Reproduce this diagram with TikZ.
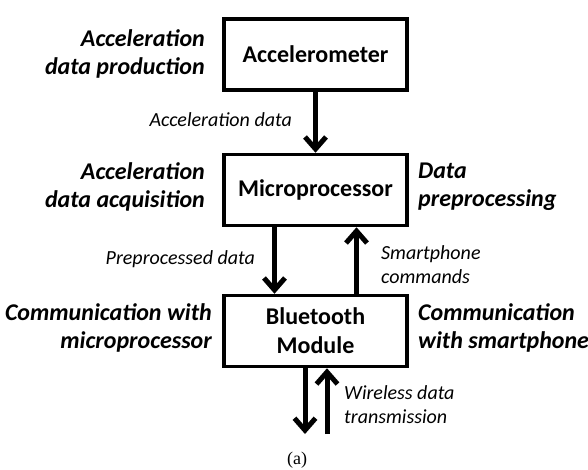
\documentclass[tikz,border=0pt]{standalone}
\usepackage{fontspec}
\setmainfont{Carlito}
\newfontfamily\legende{Liberation Serif}
\usepackage{tikz}
\usetikzlibrary{positioning,arrows.meta}
\tikzset{
	bloc/.style={draw,line width=3.5pt,minimum width=183pt,minimum height=71pt,align=center,
		font=\fontsize{24}{29}\selectfont\bfseries},
	role/.style={inner sep=0pt,font=\fontsize{24}{28}\selectfont\bfseries\itshape},
	flux/.style={inner sep=0pt,font=\fontsize{20}{24}\selectfont\itshape},
	fleche/.style={line width=5pt,-{Straight Barb[length=12pt,width=21pt]}}
}

\begin{document}
\begin{tikzpicture}[x=1pt,y=-1pt]
	\def\xc{315.5};
	\def\dx{41};
\useasboundingbox (0,0) rectangle (588,469);

%Blocs
\node[bloc] (acc) at (\xc,54.5) {Accelerometer};
\node[bloc] (mic) at (\xc,190) {Microprocessor};
\node[bloc] (bt) at (\xc,331) {Bluetooth\\Module};

%Extremites libres
\coordinate (sortie) at (\xc-10.5,434);
\coordinate (entree) at (\xc+11.5,434);

%Fleches
\draw[fleche] (acc.south) -- (mic.north);
\draw[fleche] ([xshift=-\dx]mic.south) -- ([xshift=-\dx]bt.north);
\draw[fleche] ([xshift=\dx]bt.north) -- ([xshift=\dx]mic.south);
\draw[fleche] (bt.south -| sortie) -- (sortie);
\draw[fleche] (entree) -- (bt.south -| entree);

%Roles
\node[role,anchor=east,align=right] (rprod) at (205,54) {Acceleration\\data production};
\node[role,anchor=east,align=right] (racq) at (205,187) {Acceleration\\data acquisition};
\node[role,anchor=west,align=left] (rpre) at (418,187) {Data\\preprocessing};
\node[role,anchor=east,align=right] (rcmic) at (212,328) {Communication with\\microprocessor};
\node[role,anchor=west,align=left] (rcsm) at (418,328) {Communication\\with smartphone};

%Donnees
\node[flux,anchor=east] (dacc) at (292,120) {Acceleration data};
\node[flux,anchor=east] (dpre) at (255,259) {Preprocessed data};
\node[flux,anchor=west,align=left] (dcmd) at (381,265) {Smartphone\\commands};
\node[flux,anchor=west,align=left] (dsf) at (344,405) {Wireless data\\transmission};

\node[inner sep=0pt,font=\legende\fontsize{18}{20}\selectfont] (titre) at (297,460) {(a)};

\end{tikzpicture}
\end{document}
